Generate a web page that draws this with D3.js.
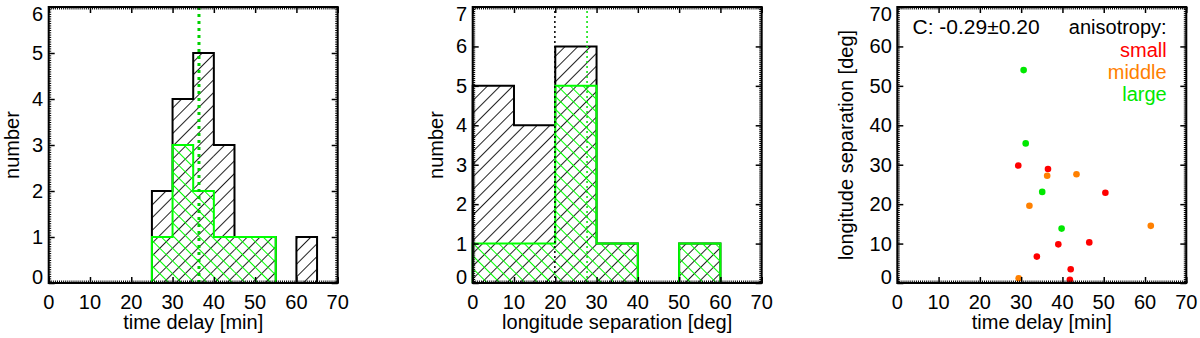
<!DOCTYPE html>
<html>
<head>
<meta charset="utf-8">
<script src="https://cdn.jsdelivr.net/npm/d3@7"></script>
<style>
	body { margin: 0; background: #fff; }
	svg text { font-family: "Liberation Sans", Arial, sans-serif; font-size: 20px; fill: #000; }
</style>
</head>
<body>
<svg id="chart" width="1200" height="338"></svg>
<script>

// time delay histogram (bins of 5 min starting at 25)
var delayBinStart = 25,
	delayBinWidth = 5;
var delayCountsAll = [2, 4, 5, 3, 1, 1, 0, 1];
var delayCountsLarge = [1, 3, 2, 1, 1, 1];
var delayMedianAll = 36.4,
	delayMedianLarge = 36.4;

// longitude separation histogram (bins of 10 deg starting at 0)
var lonBinStart = 0,
	lonBinWidth = 10;
var lonCountsAll = [5, 4, 6, 1, 0, 1];
var lonCountsLarge = [1, 1, 5, 1, 0, 1];
var lonMedianAll = 19.9,
	lonMedianLarge = 27.7;

// scatter: time delay vs longitude separation
var scatterDelay = [30.6, 31.1, 29.3, 36.5, 36.3, 43.4, 35.1, 50.4, 32.0, 39.8, 61.4, 39.0, 46.5, 33.8, 42.0, 41.8, 29.4];
var scatterLon   = [54.0, 35.4, 29.8, 28.9, 27.2, 27.6, 23.1, 22.9, 19.6, 13.8, 14.5, 9.8, 10.3, 6.7, 3.5, 0.8, 1.2];
var scatterClass = ["large", "large", "small", "small", "middle", "middle", "large", "small", "middle", "large", "middle", "small", "small", "small", "small", "small", "middle"];

var correlationText = "C: -0.29\u00b10.20";
var legendTitle = "anisotropy:";
var legendLabels = ["small", "middle", "large"];
var classColors = { small: "#ff0000", middle: "#ff8000", large: "#00e800" };

var xTickValues = [0, 10, 20, 30, 40, 50, 60, 70];


var svg = d3.select("#chart");

// hatch patterns
var defs = svg.append("defs");

function hatch(id, angle, color){
	defs.append("pattern")
		.attr("id", id)
		.attr("patternUnits", "userSpaceOnUse")
		.attr("width", 9)
		.attr("height", 9)
		.attr("patternTransform", "rotate(" + angle + ")")
		.append("line")
			.attr("x1", 0.5).attr("y1", 0)
			.attr("x2", 0.5).attr("y2", 9)
			.attr("stroke", color)
			.attr("stroke-width", 1);
}
hatch("hatchBlack", 45, "#222");
hatch("hatchGreen", -45, "#00ff00");


var plotTop = 7,
	plotBottom = 283,
	plotWidth = 289;


function frame(g, x, y, yMajor, yMinorStep, xMinorStep){

	var x0 = x.range()[0], x1 = x.range()[1],
		y0 = y.range()[0], y1 = y.range()[1];

	var xMinor = d3.range(x.domain()[0], x.domain()[1] + 1e-6, xMinorStep),
		yMinor = d3.range(y.domain()[0], y.domain()[1] + 1e-6, yMinorStep);

	// major + minor ticks on all four sides, pointing inward
	var sides = [
		{ make: function(){ return d3.axisBottom(x); }, t: "translate(0," + y0 + ")", isX: true },
		{ make: function(){ return d3.axisTop(x); },    t: "translate(0," + y1 + ")", isX: true },
		{ make: function(){ return d3.axisLeft(y); },   t: "translate(" + x0 + ",0)", isX: false },
		{ make: function(){ return d3.axisRight(y); },  t: "translate(" + x1 + ",0)", isX: false }
	];

	sides.forEach(function(d){
		g.append("g")
			.attr("transform", d.t)
			.call(d.make()
				.tickValues(d.isX ? xMinor : yMinor)
				.tickSize(-2.5)
				.tickFormat(""))
			.call(function(s){ s.select(".domain").remove(); s.selectAll("line").attr("stroke", "#000").attr("stroke-width", 1); });
		g.append("g")
			.attr("transform", d.t)
			.call(d.make()
				.tickValues(d.isX ? xTickValues : yMajor)
				.tickSize(-6)
				.tickFormat(""))
			.call(function(s){ s.select(".domain").remove(); s.selectAll("line").attr("stroke", "#000").attr("stroke-width", 1.5); });
	});

	// tick labels
	g.append("g")
		.selectAll("text")
		.data(xTickValues)
		.enter()
			.append("text")
				.attr("x", function(d){ return x(d); })
				.attr("y", 309)
				.attr("text-anchor", "middle")
				.text(function(d){ return d; });

	g.append("g")
		.selectAll("text")
		.data(yMajor)
		.enter()
			.append("text")
				.attr("x", x0 - 5.5)
				.attr("y", function(d){ return Math.max(14, Math.min(277, y(d))) + 7; })
				.attr("text-anchor", "end")
				.text(function(d){ return d; });

	g.append("rect")
		.attr("x", x0)
		.attr("y", y1)
		.attr("width", x1 - x0)
		.attr("height", y0 - y1)
		.attr("fill", "none")
		.attr("stroke", "#000")
		.attr("stroke-width", 2);
}


function histogram(g, x, y, start, width, counts, pattern, color){

	var bins = counts.map(function(c, i){ return { lo: start + i * width, hi: start + (i + 1) * width, n: c }; });

	g.append("g")
		.selectAll("rect")
		.data(bins.filter(function(d){ return d.n > 0; }))
		.enter()
			.append("rect")
				.attr("x", function(d){ return x(d.lo); })
				.attr("y", function(d){ return y(d.n); })
				.attr("width", function(d){ return x(d.hi) - x(d.lo); })
				.attr("height", function(d){ return y(0) - y(d.n); })
				.attr("fill", "url(#" + pattern + ")");

	var pts = [[bins[0].lo, 0]];
	bins.forEach(function(d){ pts.push([d.lo, d.n]); pts.push([d.hi, d.n]); });
	pts.push([bins[bins.length - 1].hi, 0]);

	g.append("path")
		.attr("d", d3.line().x(function(d){ return x(d[0]); }).y(function(d){ return y(d[1]); })(pts))
		.attr("fill", "none")
		.attr("stroke", color)
		.attr("stroke-width", 2);
}


function medianLine(g, x, y, value, color, width, dash){
	g.append("line")
		.attr("x1", x(value)).attr("x2", x(value))
		.attr("y1", y.range()[0]).attr("y2", y.range()[1])
		.attr("stroke", color)
		.attr("stroke-width", width)
		.attr("stroke-dasharray", dash);
}


function xTitle(g, x, label){
	g.append("text")
		.attr("x", (x.range()[0] + x.range()[1]) / 2)
		.attr("y", 329)
		.attr("text-anchor", "middle")
		.text(label);
}

function yTitle(g, xpos, label){
	g.append("text")
		.attr("transform", "translate(" + xpos + "," + ((plotTop + plotBottom) / 2) + ") rotate(-90)")
		.attr("text-anchor", "middle")
		.text(label);
}


// Panel 1
var x1 = d3.scaleLinear().domain([0, 70]).range([48.7, 48.7 + plotWidth]),
	y1 = d3.scaleLinear().domain([0, 6]).range([plotBottom, plotTop]);
var g1 = svg.append("g");

histogram(g1, x1, y1, delayBinStart, delayBinWidth, delayCountsAll, "hatchBlack", "#000");
histogram(g1, x1, y1, delayBinStart, delayBinWidth, delayCountsLarge, "hatchGreen", "#00ff00");
// both medians coincide here, the green one covers the black one
medianLine(g1, x1, y1, delayMedianAll, "#000", 1.5, "3,4");
medianLine(g1, x1, y1, delayMedianLarge, "#00d000", 3, "3,4");
frame(g1, x1, y1, d3.range(0, 7), 0.05, 0.5);
xTitle(g1, x1, "time delay [min]");
yTitle(g1, 19, "number");


// Panel 2
var x2 = d3.scaleLinear().domain([0, 70]).range([472.7, 472.7 + plotWidth]),
	y2 = d3.scaleLinear().domain([0, 7]).range([plotBottom, plotTop]);
var g2 = svg.append("g");

histogram(g2, x2, y2, lonBinStart, lonBinWidth, lonCountsAll, "hatchBlack", "#000");
histogram(g2, x2, y2, lonBinStart, lonBinWidth, lonCountsLarge, "hatchGreen", "#00ff00");
medianLine(g2, x2, y2, lonMedianAll, "#000", 1.5, "2,3");
medianLine(g2, x2, y2, lonMedianLarge, "#00e000", 1.5, "2,3");
frame(g2, x2, y2, d3.range(0, 8), 0.05, 0.5);
xTitle(g2, x2, "longitude separation [deg]");
yTitle(g2, 443, "number");


// Panel 3
var x3 = d3.scaleLinear().domain([0, 70]).range([897.3, 897.3 + plotWidth]),
	y3 = d3.scaleLinear().domain([0, 70]).range([plotBottom, plotTop]);
var g3 = svg.append("g");

g3.append("g")
	.selectAll("circle")
	.data(scatterDelay)
	.enter()
		.append("circle")
			.attr("cx", function(d, i){ return x3(d); })
			.attr("cy", function(d, i){ return y3(scatterLon[i]); })
			.attr("r", 3.3)
			.attr("fill", function(d, i){ return classColors[scatterClass[i]]; });

frame(g3, x3, y3, d3.range(0, 71, 10), 0.5, 0.5);
xTitle(g3, x3, "time delay [min]");
yTitle(g3, 853, "longitude separation  [deg]");

g3.append("text")
	.attr("x", 912.5)
	.attr("y", 34)
	.style("font-size", "21px")
	.text(correlationText);

g3.append("text")
	.attr("x", 1166.7)
	.attr("y", 34)
	.attr("text-anchor", "end")
	.text(legendTitle);

g3.append("g")
	.selectAll("text")
	.data(legendLabels)
	.enter()
		.append("text")
			.attr("x", 1166.7)
			.attr("y", function(d, i){ return 56.5 + i * 22.3; })
			.attr("text-anchor", "end")
			.style("fill", function(d){ return classColors[d]; })
			.text(function(d){ return d; });

</script>
</body>
</html>
